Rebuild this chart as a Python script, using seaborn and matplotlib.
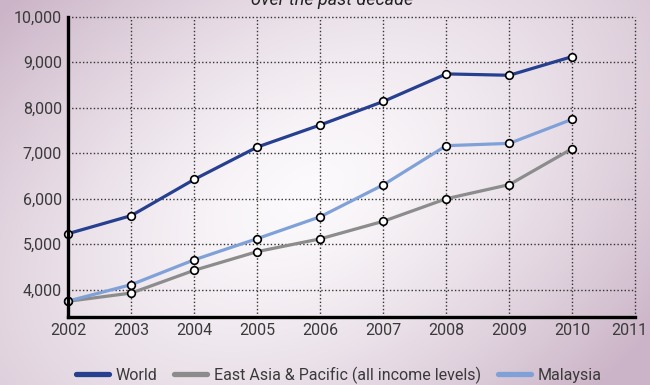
import numpy as np
import pandas as pd
import matplotlib
matplotlib.use("Agg")
import matplotlib.pyplot as plt
from matplotlib.lines import Line2D
from matplotlib.ticker import FuncFormatter
from matplotlib.transforms import ScaledTranslation
import seaborn as sns

# GDP per capita series, 2002-2010
years = [2002, 2003, 2004, 2005, 2006, 2007, 2008, 2009, 2010]
world = [5235, 5630, 6425, 7135, 7620, 8135, 8740, 8710, 9120]
east_asia_pacific = [3750, 3930, 4430, 4840, 5120, 5505, 6000, 6310, 7100]
malaysia = [3755, 4115, 4660, 5125, 5605, 6305, 7165, 7215, 7745]

series_names = ["World", "East Asia & Pacific (all income levels)", "Malaysia"]
series_colors = ["#26408f", "#8c8c8c", "#7fa1d8"]
x_ticks = list(range(2002, 2012))
y_ticks = [4000, 5000, 6000, 7000, 8000, 9000, 10000]

df = pd.DataFrame({
    "year": years * 3,
    "value": world + east_asia_pacific + malaysia,
    "series": [series_names[0]] * len(years)
    + [series_names[1]] * len(years)
    + [series_names[2]] * len(years),
})

sns.set_theme(style="white")
plt.rcParams["font.family"] = ["Roboto", "DejaVu Sans"]

W, H = 650, 385
fig = plt.figure(figsize=(W / 100, H / 100), dpi=100)

# soft background: light band along the bottom-left / top-right diagonal,
# mauve towards the other two corners
bg = fig.add_axes([0, 0, 1, 1], zorder=-10)
yy, xx = np.mgrid[0:H, 0:W].astype(float)
cx, cy = 0.47 * W, 0.50 * H
norm = np.hypot(W, H)
v = ((xx - cx) * H + (yy - cy) * W) / norm      # across the diagonal
u = ((xx - cx) * W - (yy - cy) * H) / norm      # along the diagonal
d = np.sqrt((v / 330.0) ** 2 + (u / 520.0) ** 2)
t = np.clip(np.clip(d, 0, 1.15) ** 1.4, 0, 1)
white = np.array([252, 250, 252]) / 255
mauve = np.array([203, 180, 199]) / 255
img = white[None, None, :] * (1 - t[..., None]) + mauve[None, None, :] * t[..., None]
bg.imshow(img, aspect="auto", extent=[0, 1, 0, 1])
bg.set_axis_off()

ax = fig.add_axes([68.3 / W, (H - 317.2) / H, (635.3 - 68.3) / W, (317.2 - 16.5) / H])
ax.patch.set_alpha(0)

sns.lineplot(
    data=df, x="year", y="value", hue="series", palette=series_colors,
    hue_order=series_names, linewidth=2.3, marker="o", markersize=5.5,
    markerfacecolor="white", markeredgecolor="black", markeredgewidth=1.2,
    legend=False, ax=ax, zorder=5,
)
for ln in ax.lines:
    ln.set_clip_on(False)

ax.set_xlim(2002, 2011)
ax.set_ylim(3400, 10000)
ax.set_xticks(x_ticks)
ax.set_yticks(y_ticks)
ax.yaxis.set_major_formatter(FuncFormatter(lambda v, p: f"{int(v):,}"))
ax.set_xlabel("")
ax.set_ylabel("")
ax.grid(True, linestyle=(0, (1, 1.6)), color="#333333", linewidth=1.0)
for gl in ax.get_xgridlines() + ax.get_ygridlines():
    gl.set_clip_on(False)
ax.tick_params(axis="both", length=0, labelsize=11.5, colors="#3a3a3a")
ax.tick_params(axis="x", pad=4.5)
ax.tick_params(axis="y", pad=4.5)

# nudge the last year label inward so it stays on the canvas
last_label = ax.xaxis.get_major_ticks()[-1].label1
last_label.set_transform(last_label.get_transform()
                         + ScaledTranslation(-6 / 100, 0, fig.dpi_scale_trans))

for side in ["top", "right"]:
    ax.spines[side].set_visible(False)
for side in ["left", "bottom"]:
    ax.spines[side].set_color("black")
    ax.spines[side].set_linewidth(2.4)
    ax.spines[side].set_zorder(6)

# subtitle, largely above the canvas
fig.text(332 / W, 1 - 5 / H, "over the past decade", ha="center", va="baseline",
         fontsize=13, style="italic", color="#222222")

handles = [Line2D([0], [0], color=c, linewidth=3.8) for c in series_colors]
fig.legend(handles, series_names, loc="center", bbox_to_anchor=(339 / W, 1 - 375 / H),
           ncol=3, frameon=False, fontsize=11.5, handlelength=2.05, handletextpad=0.45,
           columnspacing=1.05, labelcolor="#3a3a3a", borderaxespad=0, borderpad=0)

fig.savefig("out.png", dpi=100)
